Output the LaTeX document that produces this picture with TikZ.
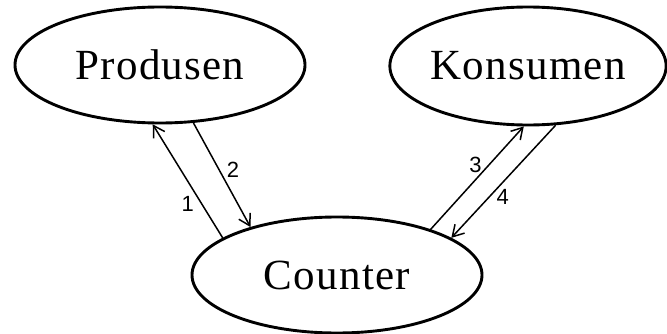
\documentclass[tikz,border=0pt]{standalone}
\usepackage{fontspec}
\setmainfont{Liberation Serif}
\setsansfont{Liberation Sans}
\newfontfamily\procfont[LetterSpace=3]{Liberation Serif}
\usetikzlibrary{shapes.geometric,arrows.meta}

\begin{document}
\begin{tikzpicture}[x=1pt,y=1pt,>={Straight Barb[length=11pt,width=13pt]}]
\tikzset{proc/.style={ellipse,draw,line width=2.9pt,inner sep=0pt,font=\procfont\fontsize{43}{50}\selectfont},
  num/.style={font=\sffamily\fontsize{22}{26}\selectfont,inner sep=7pt}}
\useasboundingbox[fill=white] (0,0) rectangle (667,333);
\node[proc,minimum width=290,minimum height=116] (prod) at (160,268) {Produsen};
\node[proc,minimum width=274,minimum height=118] (kons) at (528,267) {Konsumen};
\node[proc,minimum width=290,minimum height=116] (cnt) at (337,58) {Counter};
\draw[->,line width=1.5pt] (cnt.162) -- node[num,left,pos=0.3] {1} (prod.-97);
\draw[->,line width=1.5pt] (prod.-60) -- node[num,right,pos=0.45] {2} (cnt.151);
\draw[->,line width=1.5pt] (cnt.26) -- node[num,left,pos=0.63] {3} (kons.-94);
\draw[->,line width=1.5pt] (kons.-65) -- node[num,right,pos=0.64] {4} (cnt.18);
\end{tikzpicture}
\end{document}
